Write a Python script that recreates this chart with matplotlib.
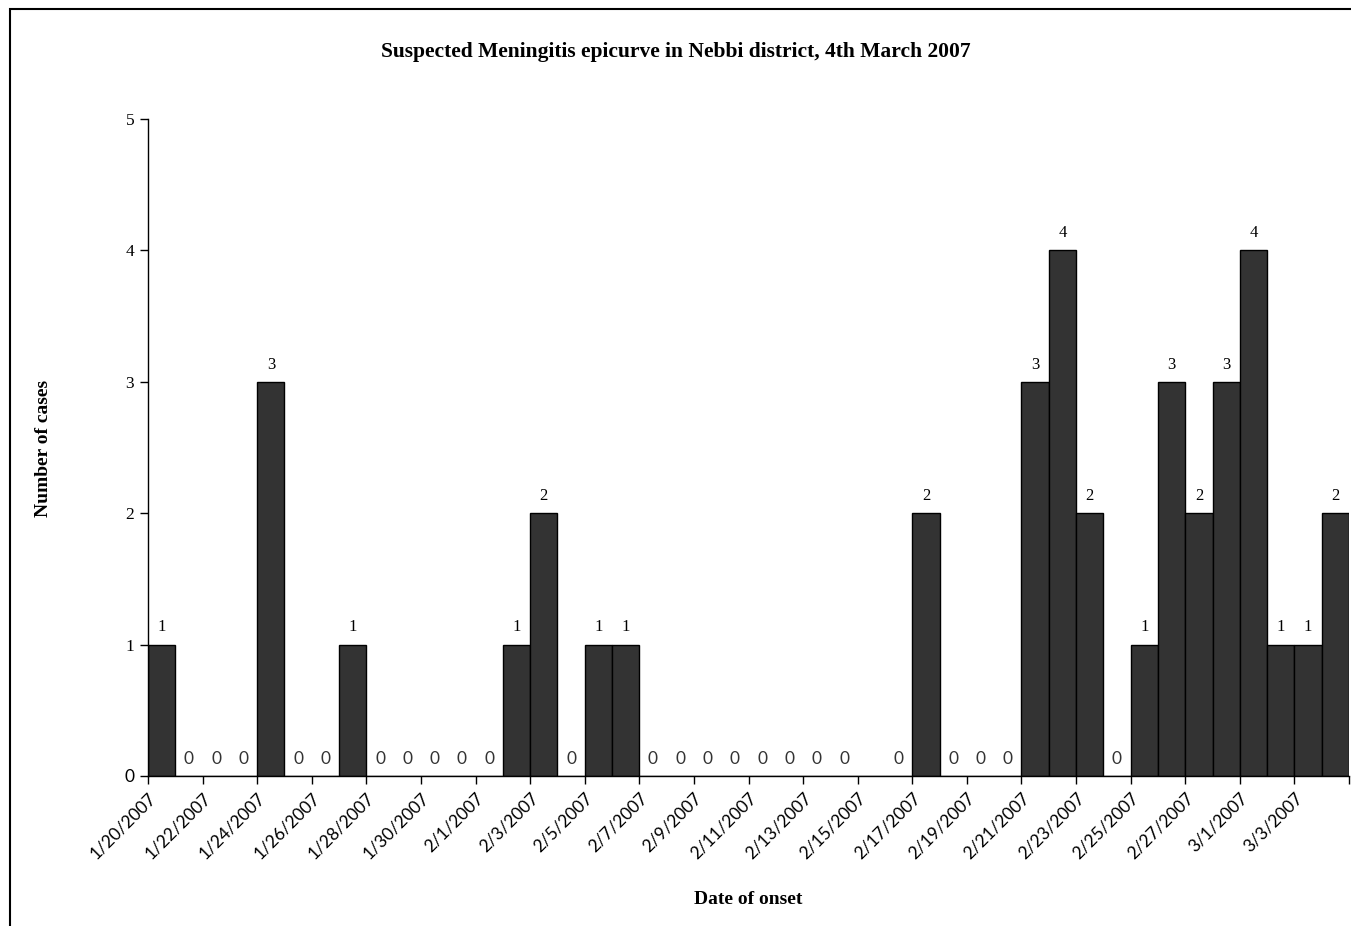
import matplotlib
matplotlib.use("Agg")
import matplotlib.pyplot as plt
import numpy as np
import pandas as pd
from matplotlib.patches import Rectangle

dates = pd.date_range("2007-01-20", "2007-03-04", freq="D")
cases = [1, 0, 0, 0, 3, 0, 0, 1, 0, 0, 0, 0, 0, 1, 2, 0, 1, 1, 0, 0, 0, 0,
         0, 0, 0, 0, None, 0, 2, 0, 0, 0, 3, 4, 2, 0, 1, 3, 2, 3, 4, 1, 1, 2]
tick_labels = [f"{d.month}/{d.day}/{d.year}" for d in dates[::2]]

serif = "Liberation Serif"
sans = "Lato"

fig = plt.figure(figsize=(13.51, 9.26), dpi=100)
fig.patches.append(Rectangle((10/1351, -0.1), 1.2, 1 - 9/926 + 0.1, transform=fig.transFigure,
                             fill=False, edgecolor="black", linewidth=1.5))
ax = fig.add_axes([148/1351, 1 - 776/926, (1349 - 148)/1351, (776 - 119)/926])

x = np.arange(len(dates))
vals = np.array([np.nan if v is None else v for v in cases], dtype=float)
ax.bar(x, np.nan_to_num(vals), width=1.0, align="edge", color="#333333",
       edgecolor="black", linewidth=1.0)

for xi, v in zip(x, vals):
    if np.isnan(v):
        continue
    if v == 0:
        ax.text(xi + 0.5, 0.07, "0", ha="center", va="bottom", fontsize=12.5,
                family=sans, color="#333333")
    else:
        ax.text(xi + 0.5, v + 0.07, f"{int(v)}", ha="center", va="bottom",
                fontsize=12, family=serif, color="black")

ax.set_xlim(0, len(dates))
ax.set_ylim(0, 5)
xt = np.arange(0, len(dates) + 1, 2)
ax.set_xticks(xt)
ax.set_xticklabels(tick_labels + [""] * (len(xt) - len(tick_labels)),
                   rotation=45, ha="right", rotation_mode="anchor",
                   family=sans, fontsize=12.5)
ax.set_yticks(range(6))
ax.set_yticklabels([str(i) for i in range(6)], family=serif, fontsize=12.5)
ax.get_yticklabels()[0].set_family(sans)
ax.tick_params(axis="both", direction="out", length=6, width=1, color="black")
ax.tick_params(axis="x", pad=4)
ax.tick_params(axis="y", pad=4)
for s in ["top", "right"]:
    ax.spines[s].set_visible(False)
for s in ["left", "bottom"]:
    ax.spines[s].set_linewidth(1)

fig.text(0.5, 1 - 52/926, "Suspected Meningitis epicurve in Nebbi district, 4th March 2007",
         ha="center", va="center", fontsize=15.5, fontweight="bold", family=serif)
fig.text(43/1351, 1 - 448/926, "Number of cases", rotation=90, ha="center",
         va="center", fontsize=14, fontweight="bold", family=serif)
fig.text(748/1351, 1 - 900/926, "Date of onset", ha="center", va="center",
         fontsize=14, fontweight="bold", family=serif)

fig.savefig("out.png", dpi=100)
